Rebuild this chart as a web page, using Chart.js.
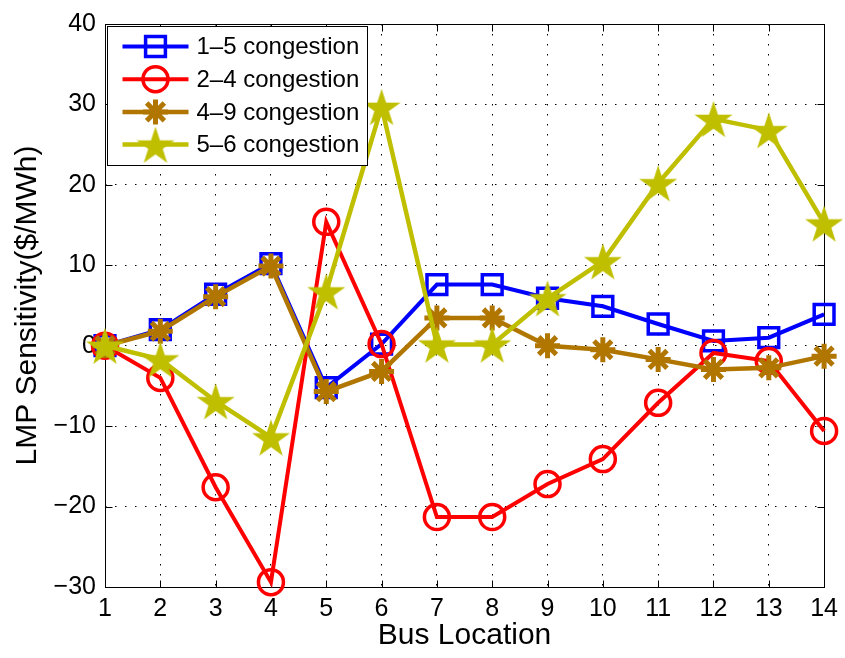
<!DOCTYPE html>
<html>
<head>
<meta charset="utf-8">
<title>LMP Sensitivity</title>
<script src="https://cdn.jsdelivr.net/npm/chart.js@4.4.1/dist/chart.umd.min.js"></script>
<style>
  body { margin: 0; background: #fff; }
  #wrap { width: 845px; height: 658px; }
</style>
</head>
<body>
<div id="wrap"><canvas id="lmp-chart" width="845" height="658"></canvas></div>
<script>
// bus numbers on the x axis
const busIds = [1, 2, 3, 4, 5, 6, 7, 8, 9, 10, 11, 12, 13, 14];
const yTicks = [-30, -20, -10, 0, 10, 20, 30, 40];

// LMP sensitivity per bus ($/MWh) for each congested line
const cong15 = [0, 2.0, 6.4, 10.2, -5.2, 0.2, 7.6, 7.6, 5.9, 4.9, 2.7, 0.6, 1.0, 3.9];
const cong24 = [0, -4.0, -17.6, -29.4, 15.4, 0.2, -21.3, -21.3, -17.2, -14.1, -7.1, -0.9, -1.9, -10.6];
const cong49 = [0, 1.8, 6.1, 9.9, -5.7, -3.2, 3.45, 3.45, 0, -0.5, -1.7, -2.95, -2.75, -1.3];
const cong56 = [0, -1.7, -6.9, -11.4, 6.75, 29.7, 0.15, 0.15, 5.9, 10.5, 20.2, 28.2, 26.8, 15.2];

const seriesNames = ['1\u20135 congestion', '2\u20134 congestion', '4\u20139 congestion', '5\u20136 congestion'];

const FONT = "'Liberation Sans', Arial, Helvetica, sans-serif";
Chart.defaults.font.family = FONT;
Chart.defaults.color = '#000';

// filled five-point star used as a marker
function pentagram(size, color) {
  const c = document.createElement('canvas');
  c.width = c.height = size;
  const g = c.getContext('2d');
  const R = size / 2, r = R * 0.382;
  g.beginPath();
  for (let i = 0; i < 10; i++) {
    const a = -Math.PI / 2 + i * Math.PI / 5;
    const d = i % 2 ? r : R;
    g.lineTo(R + d * Math.cos(a), R + 2 + d * Math.sin(a));
  }
  g.closePath();
  g.fillStyle = color;
  g.fill();
  return c;
}

const starImg = pentagram(40, '#bfbf00');

function toPoints(vals) {
  return busIds.map((b, i) => ({ x: b, y: vals[i] }));
}

const styles = [
  { color: '#0000ff', pointStyle: 'rect', radius: 14, bw: 3.5, lw: 4 },
  { color: '#ff0000', pointStyle: 'circle', radius: 12.5, bw: 3.5, lw: 4 },
  { color: '#b07600', pointStyle: 'star', radius: 12.5, bw: 5, lw: 4.5 },
  { color: '#bfbf00', pointStyle: starImg, radius: 20, bw: 0, lw: 4.5 }
];

const allSeries = [cong15, cong24, cong49, cong56];

const datasets = allSeries.map((vals, i) => ({
  label: seriesNames[i],
  data: toPoints(vals),
  borderColor: styles[i].color,
  borderWidth: styles[i].lw,
  backgroundColor: 'rgba(0,0,0,0)',
  pointStyle: styles[i].pointStyle,
  pointRadius: styles[i].radius,
  pointBorderWidth: styles[i].bw,
  pointBorderColor: styles[i].color,
  pointBackgroundColor: 'rgba(0,0,0,0)',
  tension: 0,
  fill: false,
  clip: false,
  order: allSeries.length - 1 - i
}));

// axes box with inward tick marks
const frame = {
  id: 'frame',
  beforeDatasetsDraw(chart) {
    const { ctx, chartArea: a, scales } = chart;
    const L = Math.round(a.left) + 0.5, R = Math.round(a.right) + 0.5;
    const T = Math.round(a.top) + 0.5, B = Math.round(a.bottom) + 0.5;
    ctx.save();
    ctx.strokeStyle = '#000';
    ctx.lineWidth = 1;
    ctx.setLineDash([]);
    ctx.strokeRect(L, T, R - L, B - T);
    ctx.beginPath();
    busIds.forEach(b => {
      const px = Math.round(scales.x.getPixelForValue(b)) + 0.5;
      ctx.moveTo(px, B); ctx.lineTo(px, B - 7);
      ctx.moveTo(px, T); ctx.lineTo(px, T + 7);
    });
    yTicks.forEach(v => {
      const py = Math.round(scales.y.getPixelForValue(v)) + 0.5;
      ctx.moveTo(L, py); ctx.lineTo(L + 7, py);
      ctx.moveTo(R, py); ctx.lineTo(R - 7, py);
    });
    ctx.stroke();
    ctx.restore();
  }
};

// boxed legend in the upper-left corner of the plot
const boxLegend = {
  id: 'boxLegend',
  afterDatasetsDraw(chart) {
    const { ctx, chartArea: a } = chart;
    const x0 = a.left + 2.5, y0 = a.top + 2.5, w = 260, h = 139;
    ctx.save();
    ctx.fillStyle = '#fff';
    ctx.fillRect(x0, y0, w, h);
    ctx.strokeStyle = '#000';
    ctx.lineWidth = 1;
    ctx.strokeRect(x0, y0, w, h);
    datasets.forEach((ds, i) => {
      const cy = y0 + 20 + i * 32.7;
      ctx.strokeStyle = ds.borderColor;
      ctx.lineWidth = ds.borderWidth;
      ctx.beginPath();
      ctx.moveTo(x0 + 15, cy);
      ctx.lineTo(x0 + 81, cy);
      ctx.stroke();
      ctx.fillStyle = 'rgba(0,0,0,0)';
      ctx.lineWidth = ds.pointBorderWidth;
      Chart.helpers.drawPoint(ctx, {
        pointStyle: ds.pointStyle,
        radius: ds.pointRadius,
        borderWidth: ds.pointBorderWidth,
        rotation: 0
      }, x0 + 48, cy);
      ctx.fillStyle = '#000';
      ctx.font = '24px ' + FONT;
      ctx.textBaseline = 'middle';
      ctx.textAlign = 'left';
      ctx.fillText(ds.label, x0 + 89, cy + 1);
    });
    ctx.restore();
  }
};

new Chart(document.getElementById('lmp-chart'), {
  type: 'line',
  data: { datasets: datasets },
  options: {
    responsive: false,
    animation: false,
    layout: { padding: { top: 22, right: 20, left: 0, bottom: 0 } },
    plugins: {
      legend: { display: false },
      tooltip: { enabled: false }
    },
    scales: {
      x: {
        type: 'linear',
        min: 1,
        max: 14,
        afterFit: s => { s.height = 71; },
        afterBuildTicks: s => { s.ticks = busIds.map(v => ({ value: v })); },
        ticks: { font: { size: 25 }, padding: 7, maxRotation: 0, autoSkip: false },
        grid: { color: '#000', lineWidth: 1, drawTicks: false },
        border: { display: false, dash: [1.5, 8.5] },
        title: {
          display: true,
          text: 'Bus Location',
          font: { size: 30 },
          padding: { top: 0, bottom: 4 }
        }
      },
      y: {
        min: -30,
        max: 40,
        afterFit: s => { s.width = 105; },
        afterBuildTicks: s => { s.ticks = yTicks.map(v => ({ value: v })); },
        ticks: {
          font: { size: 25 },
          padding: 9,
          callback: v => String(v).replace('-', '\u2212')
        },
        grid: { color: '#000', lineWidth: 1, drawTicks: false },
        border: { display: false, dash: [1.5, 8.5] },
        title: {
          display: true,
          text: 'LMP Sensitivity($/MWh)',
          font: { size: 30 },
          padding: { top: 10, bottom: 0 }
        }
      }
    }
  },
  plugins: [frame, boxLegend]
});
</script>
</body>
</html>
